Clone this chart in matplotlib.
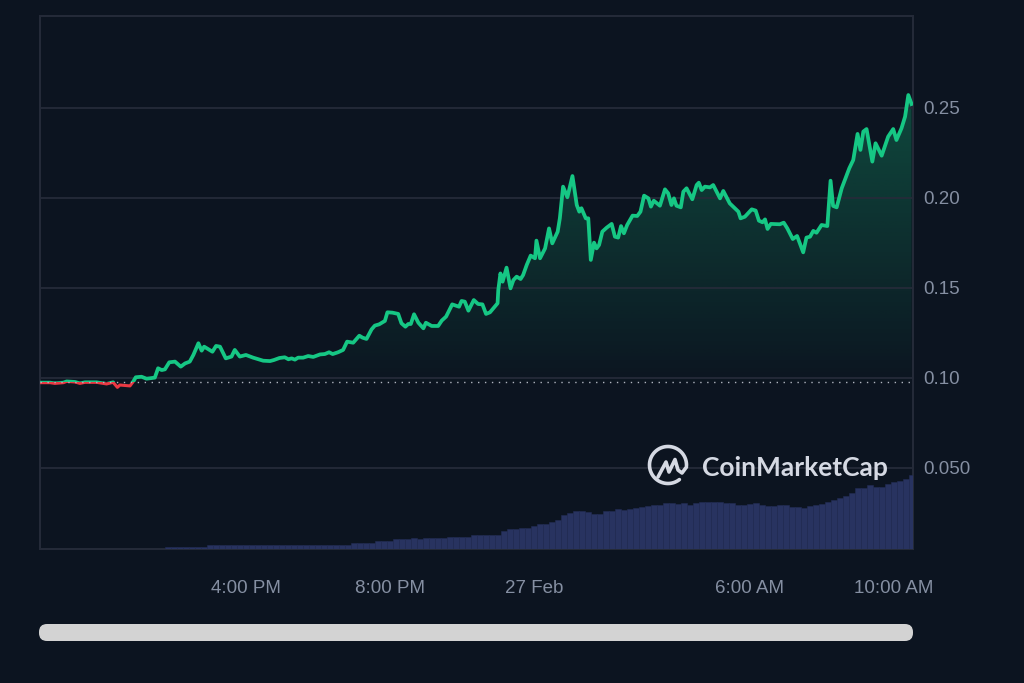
import numpy as np
import matplotlib
matplotlib.use('Agg')
import matplotlib.pyplot as plt
from matplotlib.patches import FancyBboxPatch, Polygon, Rectangle

# hours relative to midnight 27 Feb
hours = [-13.69, -13.44, -13.31, -13.07, -12.98, -12.75, -12.61, -12.47, -12.15, -11.87,
         -11.69, -11.57, -11.50, -11.22, -11.13, -11.06, -10.90, -10.76, -10.53, -10.44,
         -10.34, -10.25, -10.13, -9.97, -9.81, -9.69, -9.56, -9.46, -9.32, -9.23,
         -9.16, -8.93, -8.83, -8.72, -8.56, -8.40, -8.31, -8.17, -8.00, -7.80,
         -7.52, -7.33, -7.22, -7.07, -6.92, -6.82, -6.73, -6.64, -6.55, -6.41,
         -6.27, -6.13, -5.94, -5.81, -5.69, -5.59, -5.44, -5.30, -5.19, -5.02,
         -4.85, -4.76, -4.65, -4.51, -4.42, -4.30, -4.14, -4.07, -3.93, -3.77,
         -3.68, -3.57, -3.49, -3.42, -3.33, -3.21, -3.07, -3.00, -2.84, -2.66,
         -2.56, -2.44, -2.27, -2.08, -2.01, -1.92, -1.82, -1.67, -1.55, -1.43,
         -1.33, -1.22, -1.01, -0.99, -0.93, -0.87, -0.76, -0.65, -0.57, -0.48,
         -0.37, -0.30, -0.20, -0.09, 0.03, 0.07, 0.17, 0.31, 0.42, 0.51,
         0.66, 0.72, 0.81, 0.93, 1.07, 1.19, 1.26, 1.32, 1.44, 1.51,
         1.58, 1.67, 1.74, 1.81, 1.90, 2.02, 2.16, 2.25, 2.34, 2.42,
         2.50, 2.59, 2.74, 2.87, 2.96, 3.06, 3.18, 3.25, 3.33, 3.50,
         3.64, 3.73, 3.82, 3.89, 3.96, 4.08, 4.15, 4.24, 4.40, 4.52,
         4.58, 4.66, 4.75, 4.89, 4.98, 5.17, 5.26, 5.44, 5.68, 5.74,
         5.86, 6.05, 6.16, 6.25, 6.35, 6.42, 6.49, 6.58, 6.83, 6.94,
         7.04, 7.19, 7.31, 7.48, 7.57, 7.67, 7.76, 7.85, 7.99, 8.15,
         8.24, 8.31, 8.41, 8.55, 8.76, 8.87, 8.99, 9.07, 9.15, 9.24,
         9.40, 9.49, 9.66, 9.84, 9.98, 10.07, 10.21, 10.31, 10.40, 10.49]

prices = [.0974, .0974, .0970, .0974, .0981, .0978, .0970, .0976, .0976, .0967,
          .0976, .0948, .0961, .0956, .0980, .1004, .1007, .0996, .1002, .1054,
          .1044, .1048, .1087, .1091, .1063, .1081, .1091, .1128, .1193, .1152,
          .1174, .1146, .1178, .1174, .1109, .1119, .1156, .1119, .1128, .1113,
          .1096, .1094, .1100, .1111, .1115, .1104, .1109, .1102, .1113, .1113,
          .1122, .1117, .1131, .1133, .1143, .1133, .1143, .1156, .1202, .1196,
          .1235, .1224, .1217, .1270, .1291, .1298, .1317, .1365, .1363, .1356,
          .1304, .1285, .1300, .1300, .1354, .1307, .1276, .1307, .1289, .1289,
          .1319, .1341, .1409, .1396, .1428, .1424, .1374, .1433, .1411, .1409,
          .1356, .1365, .1415, .1489, .1581, .1535, .1613, .1498, .1544, .1563,
          .1550, .1572, .1628, .1680, .1665, .1763, .1665, .1720, .1831, .1748,
          .1813, .1887, .2063, .2004, .2122, .1961, .1924, .1943, .1887, .1887,
          .1656, .1752, .1720, .1739, .1813, .1835, .1856, .1785, .1780, .1844,
          .1804, .1850, .1902, .1900, .1924, .2013, .1998, .1952, .1985, .1957,
          .2048, .2026, .1961, .1998, .1957, .1948, .2035, .2054, .1993, .2072,
          .2085, .2044, .2063, .2059, .2072, .1998, .2039, .1970, .1924, .1887,
          .1896, .1937, .1930, .1874, .1865, .1881, .1828, .1856, .1854, .1863,
          .1831, .1772, .1789, .1698, .1780, .1785, .1817, .1807, .1850, .1844,
          .2096, .1956, .1948, .2054, .2165, .2211, .2356, .2267, .2369, .2383,
          .2202, .2304, .2235, .2341, .2383, .2322, .2387, .2452, .2572, .2522]

base_price = 0.0975

# volume, one value per 10 minutes, from -10.25 h on (relative units)
volume = [2.5] * 7 + [4.5] * 24 + [6] * 4 + [8] * 3 + [10] * 3 + [
    11, 10, 11, 11, 11, 11, 12.5, 12.5, 12.5, 12.5, 14.5, 14.5, 14.5, 14.5, 14.5,
    18, 20, 20, 21, 21, 23, 25, 25, 27, 29, 34, 36, 38, 38, 37, 35, 35, 38, 38, 40,
    39, 40, 41, 42, 43, 44, 44, 46, 46, 45, 46, 44, 46, 47.5, 47.5, 47.5, 47, 46, 46,
    44, 44, 45, 46, 44, 43, 43, 44, 44, 42, 42, 41.5, 43, 44, 45, 47, 49, 51, 53, 56,
    61, 61, 64, 62, 62, 65, 67, 68, 70, 74]
volume_start = -10.25
volume_step = 1 / 6

tick_hours = [-8, -4, 0, 6, 10]
tick_labels = ['4:00 PM', '8:00 PM', '27 Feb', '6:00 AM', '10:00 AM']
price_ticks = [0.05, 0.10, 0.15, 0.20, 0.25]
price_labels = ['0.050', '0.10', '0.15', '0.20', '0.25']

BG = '#0c1420'
GRID = '#252b39'
TEXT = '#858fa2'
GREEN = '#16c784'
RED = '#ea3943'

plt.rcParams['font.family'] = ['Liberation Sans', 'DejaVu Sans']

fig = plt.figure(figsize=(10.24, 6.83), dpi=100, facecolor=BG)
pos = [40 / 1024, (683 - 549) / 683, 873 / 1024, 533 / 683]
ax = fig.add_axes(pos, facecolor=BG)

hours = np.array(hours)
prices = np.array(prices)
xmin, xmax = -13.72, 10.53
ymin, ymax = 0.005, 0.3011

# gradient under the green part
above = np.maximum(prices, base_price)
clip_xy = np.vstack([[hours[0], base_price], np.column_stack([hours, above]), [hours[-1], base_price]])
clip_poly = Polygon(clip_xy, closed=True, transform=ax.transData, facecolor='none', edgecolor='none')
ax.add_patch(clip_poly)
grad = np.zeros((256, 2, 4))
grad[:, :, :3] = matplotlib.colors.to_rgb(GREEN)
grad[:, :, 3] = np.linspace(0.30, 0.01, 256)[:, None]
im = ax.imshow(grad, extent=[xmin, xmax, base_price, prices.max()], aspect='auto', origin='upper', zorder=1.5)
im.set_clip_path(clip_poly)

line_up, = ax.plot(hours, prices, color=GREEN, lw=2.7, zorder=3)
line_up.set_clip_path(Rectangle((xmin, base_price), xmax - xmin, ymax - base_price, transform=ax.transData))
line_down, = ax.plot(hours, prices, color=RED, lw=2.2, zorder=3)
line_down.set_clip_path(Rectangle((xmin, ymin), xmax - xmin, base_price - ymin, transform=ax.transData))
ax.axhline(base_price, color='#b0b5bf', lw=1.0, ls=(0, (1, 4)), zorder=4)

ax.set_xlim(xmin, xmax)
ax.set_ylim(ymin, ymax)
ax.set_xticks(tick_hours)
ax.set_xticklabels(tick_labels)
ax.set_yticks(price_ticks)
ax.set_yticklabels(price_labels)
ax.yaxis.tick_right()
ax.tick_params(axis='both', length=0, labelcolor=TEXT, labelsize=13.5)
ax.tick_params(axis='x', pad=22.5)
ax.tick_params(axis='y', pad=7.5)
ax.grid(axis='y', color=GRID, lw=1.3, zorder=1)
for s in ax.spines.values():
    s.set_color(GRID)
    s.set_linewidth(1.4)

# volume bars
ax_vol = fig.add_axes(pos, sharex=ax)
ax_vol.patch.set_visible(False)
ax_vol.axis('off')
vol_x = volume_start + volume_step * (np.arange(len(volume)) + 0.5)
ax_vol.bar(vol_x, volume, width=volume_step, color='#283360', edgecolor='#222c54', linewidth=0.4)
ax_vol.set_ylim(0, 533)
ax_vol.set_xlim(xmin, xmax)

# overlay in pixels: logo and scrollbar
over = fig.add_axes([0, 0, 1, 1])
over.patch.set_visible(False)
over.axis('off')
over.set_xlim(0, 1024)
over.set_ylim(683, 0)
over.add_patch(FancyBboxPatch((39, 624), 874, 17, boxstyle='round,pad=0,rounding_size=8',
                              facecolor='#d3d3d3', edgecolor='none'))
LOGO = '#d5d9e3'
ring = np.radians(np.linspace(-2, 308, 80))
over.plot(668 + 18.5 * np.cos(ring), 465 - 18.5 * np.sin(ring), color=LOGO, lw=2.6, solid_capstyle='round')
over.plot([658, 666, 669, 675, 678, 682, 686.5],
          [477, 462, 472, 459.5, 470, 473, 467], color=LOGO, lw=2.6,
          solid_joinstyle='round', solid_capstyle='round')
over.text(702, 468.5, 'CoinMarketCap', color=LOGO, fontsize=19, fontfamily='Lato',
          fontweight='bold', va='center', ha='left')

fig.savefig('out.png', dpi=100, facecolor=BG)
